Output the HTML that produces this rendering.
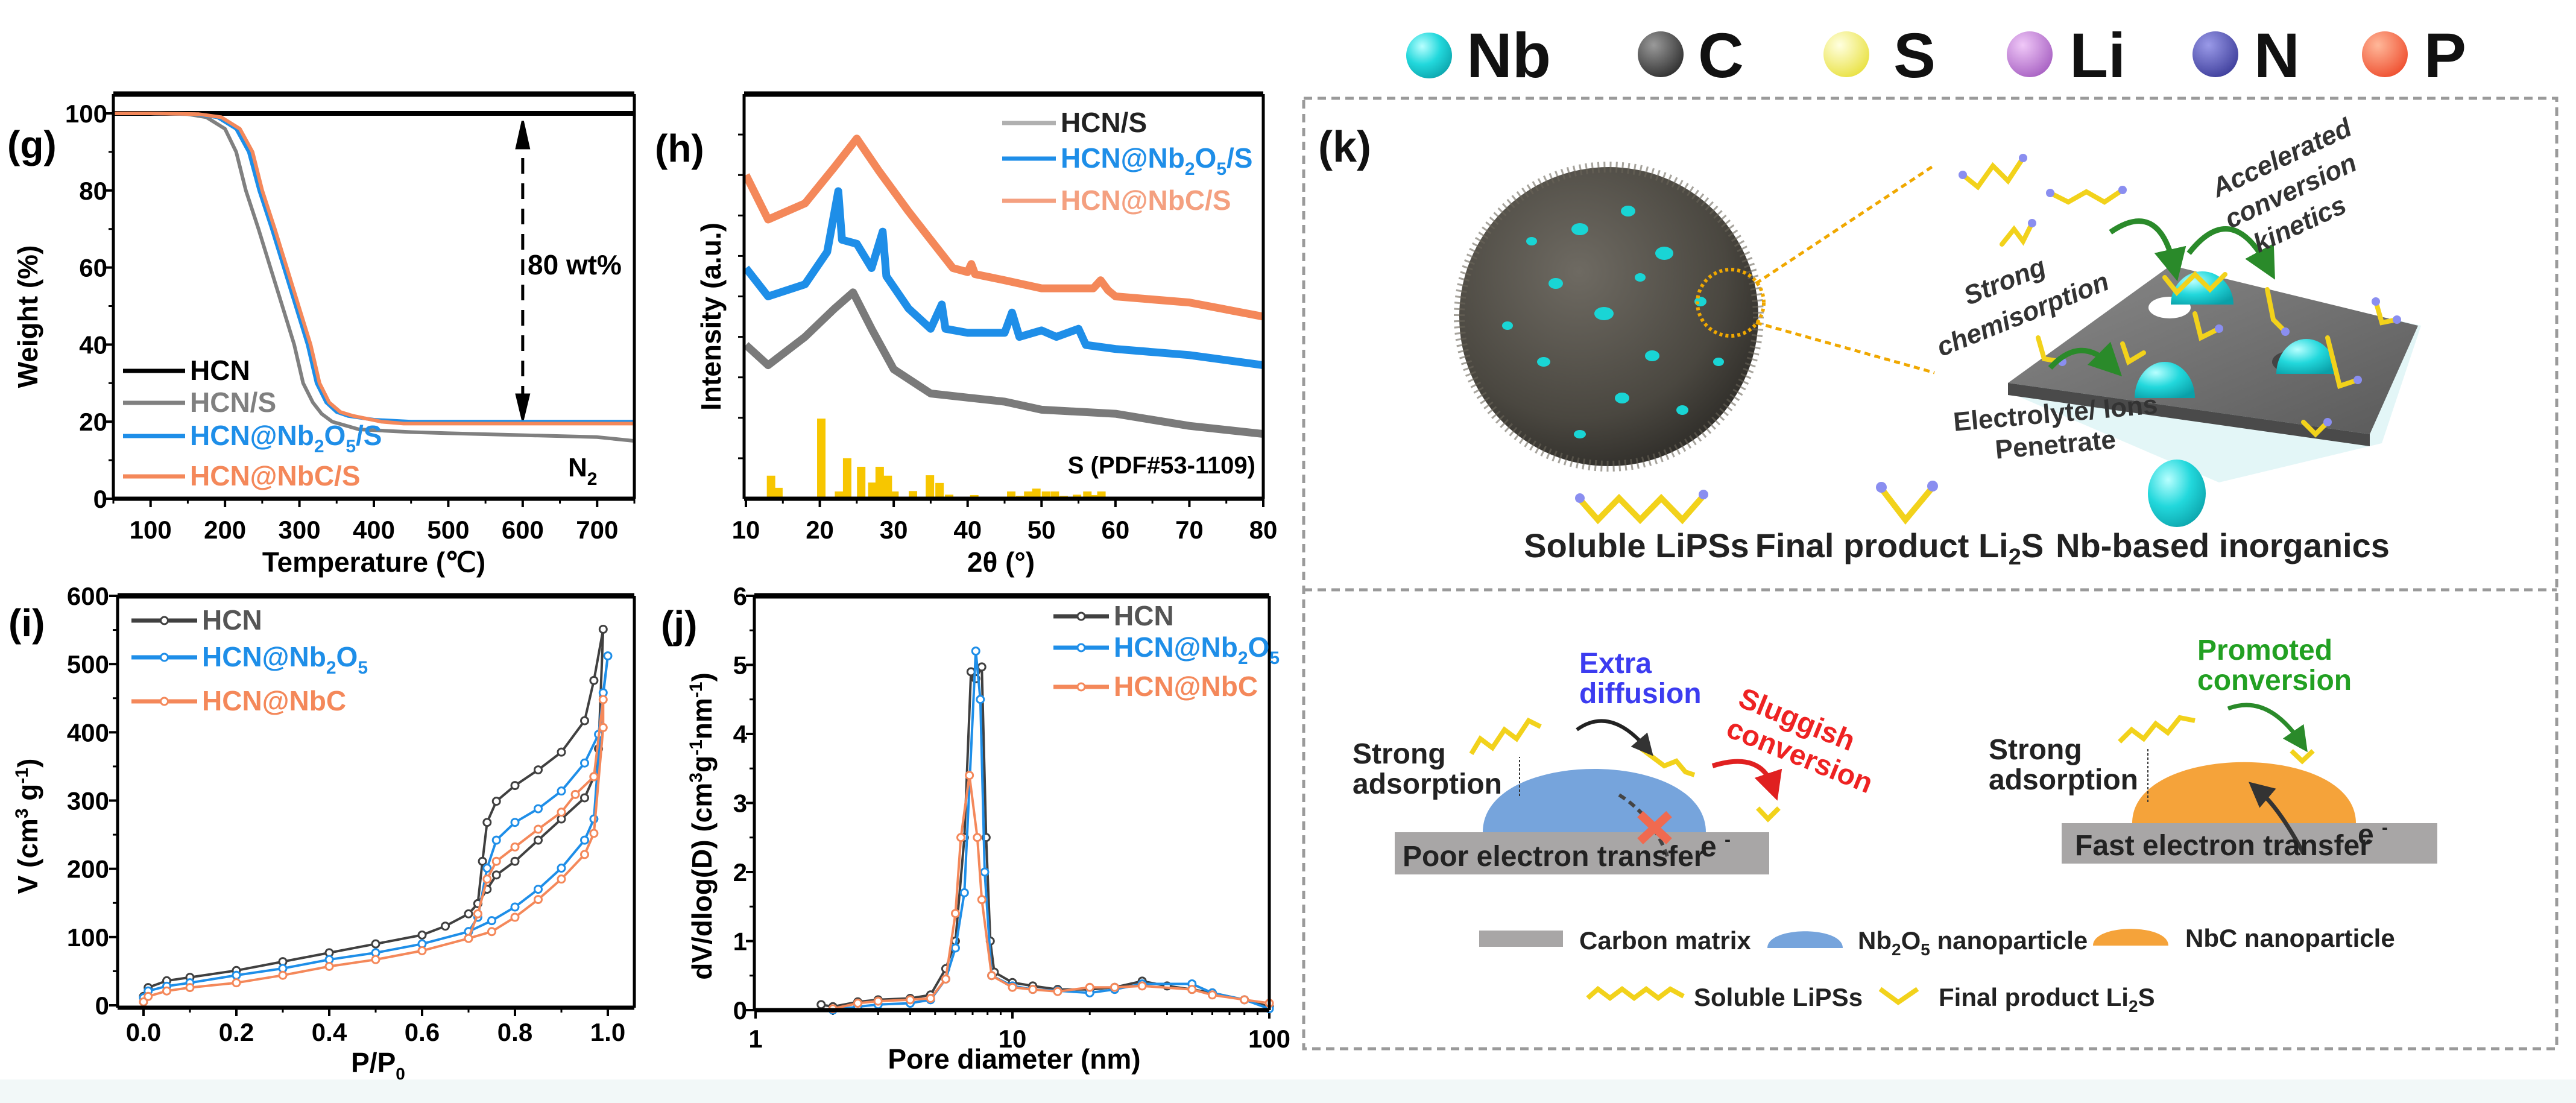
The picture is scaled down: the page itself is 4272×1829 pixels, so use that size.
<!DOCTYPE html>
<html><head><meta charset="utf-8"><style>
html,body{margin:0;padding:0;background:#fff;}
svg{display:block;font-family:"Liberation Sans",Arial,sans-serif;}
</style></head><body>
<svg id="fig" width="4272" height="1829" viewBox="0 0 4272 1829" xmlns="http://www.w3.org/2000/svg">
<defs>
<radialGradient id="sph" cx="0.4" cy="0.35" r="0.7"><stop offset="0" stop-color="#6e6a62"/><stop offset="0.7" stop-color="#4a4740"/><stop offset="1" stop-color="#2e2c28"/></radialGradient>
<radialGradient id="cy" cx="0.35" cy="0.3" r="0.8"><stop offset="0" stop-color="#b8ffff"/><stop offset="0.5" stop-color="#22d8dc"/><stop offset="1" stop-color="#0aa0a8"/></radialGradient>
<radialGradient id="gC" cx="0.35" cy="0.3" r="0.8"><stop offset="0" stop-color="#9a9a9a"/><stop offset="1" stop-color="#2a2a2a"/></radialGradient>
<radialGradient id="gS" cx="0.35" cy="0.3" r="0.8"><stop offset="0" stop-color="#ffffe0"/><stop offset="1" stop-color="#e8e03a"/></radialGradient>
<radialGradient id="gLi" cx="0.35" cy="0.3" r="0.8"><stop offset="0" stop-color="#f0c8f8"/><stop offset="1" stop-color="#a45cc0"/></radialGradient>
<radialGradient id="gN" cx="0.35" cy="0.3" r="0.8"><stop offset="0" stop-color="#9a9ae8"/><stop offset="1" stop-color="#3a3a98"/></radialGradient>
<radialGradient id="gP" cx="0.35" cy="0.3" r="0.8"><stop offset="0" stop-color="#ffb89a"/><stop offset="1" stop-color="#ee4a2a"/></radialGradient>
<linearGradient id="plate" x1="0" y1="0" x2="1" y2="1"><stop offset="0" stop-color="#8a8a8a"/><stop offset="1" stop-color="#5a5a5a"/></linearGradient>
<marker id="ah" markerWidth="6" markerHeight="6" refX="3" refY="3" orient="auto"><path d="M0,0 L6,3 L0,6 z" fill="#2a8a2a"/></marker>
<marker id="ahk" markerWidth="6" markerHeight="6" refX="3" refY="3" orient="auto"><path d="M0,0 L6,3 L0,6 z" fill="#333"/></marker>
<marker id="ahr" markerWidth="6" markerHeight="6" refX="3" refY="3" orient="auto"><path d="M0,0 L6,3 L0,6 z" fill="#e02020"/></marker>
</defs>
<rect x="0" y="1790" width="4272" height="39" fill="#f2f8f8"/>
<g id="charts"></g>

<!-- Panel k -->
<g font-weight="bold">
  <g font-size="105" fill="#111">
    <circle cx="2370" cy="92" r="38" fill="url(#cy)"/><text x="2432" y="128">Nb</text>
    <circle cx="2754" cy="90" r="38" fill="url(#gC)"/><text x="2816" y="128">C</text>
    <circle cx="3062" cy="90" r="38" fill="url(#gS)"/><text x="3140" y="128">S</text>
    <circle cx="3366" cy="90" r="38" fill="url(#gLi)"/><text x="3432" y="128">Li</text>
    <circle cx="3674" cy="90" r="38" fill="url(#gN)"/><text x="3738" y="128">N</text>
    <circle cx="3955" cy="90" r="38" fill="url(#gP)"/><text x="4020" y="128">P</text>
  </g>
  <rect x="2162" y="163" width="2078" height="1576" fill="none" stroke="#9a9a9a" stroke-width="5" stroke-dasharray="14,9"/>
  <line x1="2162" y1="978" x2="4240" y2="978" stroke="#9a9a9a" stroke-width="5" stroke-dasharray="14,9"/>
  <text x="2186" y="268" font-size="72" fill="#111">(k)</text>
  <g>
    <circle cx="2668" cy="525" r="248" fill="url(#sph)"/>
    <circle cx="2668" cy="525" r="248" fill="none" stroke="#6a655a" stroke-width="18" stroke-dasharray="3,7" opacity="0.6"/>
    <g fill="#19d5d5">
      <ellipse cx="2620" cy="380" rx="14" ry="10"/><ellipse cx="2700" cy="350" rx="12" ry="9"/><ellipse cx="2760" cy="420" rx="15" ry="11"/>
      <ellipse cx="2580" cy="470" rx="12" ry="9"/><ellipse cx="2660" cy="520" rx="16" ry="11"/><ellipse cx="2740" cy="590" rx="12" ry="9"/>
      <ellipse cx="2560" cy="600" rx="11" ry="8"/><ellipse cx="2820" cy="500" rx="10" ry="8"/><ellipse cx="2690" cy="660" rx="12" ry="9"/>
      <ellipse cx="2790" cy="680" rx="10" ry="8"/><ellipse cx="2500" cy="540" rx="9" ry="7"/><ellipse cx="2620" cy="720" rx="10" ry="7"/>
      <ellipse cx="2540" cy="400" rx="9" ry="7"/><ellipse cx="2850" cy="600" rx="9" ry="7"/><ellipse cx="2720" cy="460" rx="9" ry="7"/>
    </g>
    <circle cx="2870" cy="502" r="55" fill="none" stroke="#f0a800" stroke-width="6" stroke-dasharray="5,5"/>
    <line x1="2912" y1="470" x2="3208" y2="274" stroke="#f0a800" stroke-width="5" stroke-dasharray="10,7"/>
    <line x1="2912" y1="535" x2="3208" y2="618" stroke="#f0a800" stroke-width="5" stroke-dasharray="10,7"/>
  </g>
  <g>
    <polygon points="3330,650 3595,445 4015,540 3950,735 3680,800" fill="#c8eef0" opacity="0.5"/>
    <polygon points="3330,635 3600,440 4010,540 3930,720" fill="url(#plate)"/>
    <polygon points="3330,635 3930,720 3930,740 3330,655" fill="#4a4a4a"/>
    <ellipse cx="3598" cy="510" rx="35" ry="18" fill="#fff"/>
    <ellipse cx="3800" cy="600" rx="32" ry="18" fill="#444"/>
    <path d="M3600,505 a52,55 0 0 1 104,0 z" fill="url(#cy)"/>
    <path d="M3540,660 a50,60 0 0 1 100,0 z" fill="url(#cy)"/>
    <path d="M3775,620 a50,58 0 0 1 100,0 z" fill="url(#cy)"/>
  </g>
  <g fill="none" stroke="#f2d21b" stroke-width="8" stroke-linecap="round">
    <polyline points="3255,290 3280,310 3305,275 3330,300 3355,262"/>
    <polyline points="3400,320 3430,335 3460,318 3490,335 3520,315"/>
    <polyline points="3320,405 3340,380 3355,400 3370,370"/>
    <polyline points="3590,460 3610,485 3640,455 3665,480 3690,455"/>
    <polyline points="3640,520 3650,560 3680,545"/>
    <polyline points="3760,480 3770,530 3790,550"/>
    <polyline points="3380,560 3390,595 3420,600"/>
    <polyline points="3520,570 3530,600 3555,585"/>
    <polyline points="3860,560 3880,640 3910,630"/>
    <polyline points="3940,500 3950,535 3975,530"/>
    <polyline points="3820,700 3840,720 3860,700"/>
  </g>
  <g fill="#8a8ef0">
    <circle cx="3255" cy="290" r="7"/><circle cx="3355" cy="262" r="7"/><circle cx="3400" cy="320" r="7"/><circle cx="3520" cy="315" r="7"/>
    <circle cx="3370" cy="370" r="7"/><circle cx="3680" cy="545" r="7"/><circle cx="3790" cy="550" r="7"/><circle cx="3420" cy="600" r="7"/>
    <circle cx="3910" cy="630" r="7"/><circle cx="3975" cy="530" r="7"/><circle cx="3940" cy="500" r="7"/><circle cx="3860" cy="700" r="7"/>
  </g>
  <g fill="none" stroke="#2a8a2a" stroke-width="9">
    <path d="M3500,385 Q3580,330 3605,440" marker-end="url(#ah)"/>
    <path d="M3630,420 Q3700,330 3760,440" marker-end="url(#ah)"/>
    <path d="M3400,610 Q3450,555 3500,605" marker-end="url(#ah)"/>
  </g>
  <g font-size="44" fill="#333" font-style="italic">
    <text transform="translate(3330,480) rotate(-22)" text-anchor="middle">Strong</text>
    <text transform="translate(3360,535) rotate(-22)" text-anchor="middle">chemisorption</text>
    <text transform="translate(3790,275) rotate(-25)" text-anchor="middle">Accelerated</text>
    <text transform="translate(3805,330) rotate(-25)" text-anchor="middle">conversion</text>
    <text transform="translate(3820,385) rotate(-25)" text-anchor="middle">kinetics</text>
    <text transform="translate(3410,700) rotate(-5)" text-anchor="middle" font-style="normal">Electrolyte/ Ions</text>
    <text transform="translate(3410,752) rotate(-5)" text-anchor="middle" font-style="normal">Penetrate</text>
  </g>
  <g>
    <polyline points="2620,828 2650,862 2685,826 2720,862 2755,826 2790,862 2825,822" fill="none" stroke="#f2d21b" stroke-width="10"/>
    <circle cx="2620" cy="826" r="8" fill="#8a8ef0"/><circle cx="2825" cy="820" r="8" fill="#8a8ef0"/>
    <polyline points="3120,810 3160,862 3205,808" fill="none" stroke="#f2d21b" stroke-width="10"/>
    <circle cx="3120" cy="808" r="9" fill="#8a8ef0"/><circle cx="3205" cy="806" r="9" fill="#8a8ef0"/>
    <ellipse cx="3610" cy="818" rx="48" ry="56" fill="url(#cy)"/>
  </g>
  <g font-size="56" fill="#222" text-anchor="middle">
    <text x="2714" y="924">Soluble LiPSs</text>
    <text x="3150" y="924">Final product Li<tspan font-size="38" dy="12">2</tspan><tspan dy="-12">S</tspan></text>
    <text x="3686" y="924">Nb-based inorganics</text>
  </g>

  <!-- lower schematic -->
  <g>
    <rect x="2313" y="1380" width="621" height="70" fill="#a8a6a6"/>
    <path d="M2459,1380 C2459,1240 2829,1240 2829,1380 z" fill="#76a4dc"/>
    <polyline points="2440,1250 2455,1225 2475,1240 2495,1210 2515,1225 2535,1195 2555,1205" fill="none" stroke="#f2d21b" stroke-width="8"/>
    <polyline points="2720,1240 2740,1255 2760,1270 2780,1262 2795,1280 2810,1285" fill="none" stroke="#f2d21b" stroke-width="8"/>
    <polyline points="2520,1320 2520,1255" stroke="#333" stroke-width="2" stroke-dasharray="4,3"/>
    <path d="M2615,1210 Q2670,1170 2730,1240" fill="none" stroke="#222" stroke-width="6" marker-end="url(#ahk)"/>
    <path d="M2840,1270 Q2920,1245 2940,1305" fill="none" stroke="#e02020" stroke-width="8" marker-end="url(#ahr)"/>
    <polyline points="2915,1340 2932,1358 2950,1340" fill="none" stroke="#f2d21b" stroke-width="8"/>
    <path d="M2765,1420 Q2740,1350 2680,1315" fill="none" stroke="#444" stroke-width="6" stroke-dasharray="12,8"/>
    <g stroke="#f06a50" stroke-width="14"><line x1="2720" y1="1350" x2="2768" y2="1395"/><line x1="2768" y1="1350" x2="2720" y2="1395"/></g>
  </g>
  <g font-size="48">
    <text x="2619" y="1116" fill="#3c3cf0">Extra</text>
    <text x="2619" y="1166" fill="#3c3cf0">diffusion</text>
    <text transform="translate(2880,1170) rotate(22)" fill="#ee2222">Sluggish</text>
    <text transform="translate(2860,1220) rotate(22)" fill="#ee2222">conversion</text>
    <text x="2243" y="1266" fill="#222">Strong</text>
    <text x="2243" y="1316" fill="#222">adsorption</text>
    <text x="2326" y="1436" fill="#222">Poor electron transfer</text>
    <text x="2820" y="1420" fill="#222">e <tspan font-size="30" dy="-18">-</tspan></text>
  </g>
  <g>
    <rect x="3419" y="1365" width="623" height="67" fill="#a8a6a6"/>
    <path d="M3536,1365 C3536,1230 3907,1230 3907,1365 z" fill="#f5a33a"/>
    <polyline points="3515,1230 3535,1210 3555,1225 3575,1200 3595,1215 3615,1190 3640,1195" fill="none" stroke="#f2d21b" stroke-width="8"/>
    <polyline points="3800,1245 3818,1262 3836,1245" fill="none" stroke="#f2d21b" stroke-width="8"/>
    <path d="M3695,1175 Q3760,1150 3815,1230" fill="none" stroke="#2a8a2a" stroke-width="7" marker-end="url(#ah)"/>
    <path d="M3820,1415 Q3780,1340 3745,1310" fill="none" stroke="#333" stroke-width="7" marker-end="url(#ahk)"/>
    <line x1="3562" y1="1330" x2="3562" y2="1240" stroke="#333" stroke-width="2" stroke-dasharray="4,3"/>
  </g>
  <g font-size="48">
    <text x="3644" y="1094" fill="#22a022">Promoted</text>
    <text x="3644" y="1144" fill="#22a022">conversion</text>
    <text x="3298" y="1259" fill="#222">Strong</text>
    <text x="3298" y="1309" fill="#222">adsorption</text>
    <text x="3441" y="1418" fill="#222">Fast electron transfer</text>
    <text x="3910" y="1400" fill="#222">e <tspan font-size="30" dy="-18">-</tspan></text>
  </g>
  <g font-size="42" fill="#222">
    <rect x="2453" y="1543" width="139" height="27" fill="#a8a6a6"/>
    <text x="2619" y="1574">Carbon matrix</text>
    <path d="M2931,1572 C2931,1535 3056,1535 3056,1572 z" fill="#76a4dc"/>
    <text x="3081" y="1574">Nb<tspan font-size="28" dy="10">2</tspan><tspan dy="-10">O</tspan><tspan font-size="28" dy="10">5</tspan><tspan dy="-10"> nanoparticle</tspan></text>
    <path d="M3471,1568 C3471,1531 3596,1531 3596,1568 z" fill="#f5a33a"/>
    <text x="3624" y="1570">NbC nanoparticle</text>
    <polyline points="2633,1655 2650,1640 2670,1655 2690,1640 2710,1655 2730,1640 2750,1655 2770,1640 2792,1652" fill="none" stroke="#f2d21b" stroke-width="8"/>
    <text x="2809" y="1668">Soluble LiPSs</text>
    <polyline points="3118,1640 3148,1662 3180,1640" fill="none" stroke="#f2d21b" stroke-width="8"/>
    <text x="3215" y="1668">Final product Li<tspan font-size="28" dy="10">2</tspan><tspan dy="-10">S</tspan></text>
  </g>
</g>
</svg>
<script>
// ---------- data: panel g (TGA) ----------
const gHCNT=[50,750]; const gHCNW=[100,100];
const gST=[50,100,150,175,200,215,228,245,261,277,293,305,318,330,344,380,450,500,600,700,750];
const gSW=[100,100,99.8,99,96,90,80,70,60,50,40,30,25,22,20,18,17.3,17,16.5,16,15];
const gNbT=[50,100,160,190,215,232,246,263,279,295,311,323,336,350,365,400,450,750];
const gNbW=[100,100,99.8,99,96,90,80,70,60,50,40,30,25,22.5,21.5,20.5,20,20];
const gCT=[50,100,165,195,220,237,250,267,283,299,315,327,340,355,372,410,440,750];
const gCW=[100,100,99.8,99,96,90,80,70,60,50,40,30,25,22.5,21.5,20,19.5,19.5];
const gXTicks=[100,200,300,400,500,600,700]; const gYTicks=[0,20,40,60,80,100];
// ---------- panel h (XRD) ----------
const hST=[10,13,18,22,24.5,27,30,35,40,45,50,60,70,80];
const hSI=[38,33,40,47,51,42,32,26,25,24,22,21,18,16];
const hNbT=[10,13,18,21,22.5,23,25,27,28.5,29,32,35,36.5,37,40,45,46,47,50,52,55,56,60,70,80];
const hNbI=[57,50,53,61,76,64,63,57,66,55,47,42,48,42,41,41,46,40,41.6,40,42,38,37,35.5,33];
const hCT=[10,13,18,22,25,28,32,35,38,40,40.5,41,45,50,57,58,59,60,70,80];
const hCI=[80,69,73,82,89,81,71,64,57,56,58,55.5,54,52,52,54,51.5,50,48.5,45];
const hBarPos=[13.4,14.4,20.2,22.6,23.7,25.6,27.1,28.1,29.2,30.1,32.6,34.9,36.2,37.5,40.9,43.1,45.9,47.1,48.2,49.3,50.6,51.8,53,54.8,56.2,57.1,58.1];
const hBarH=[5.7,2.7,19.8,1.8,10,7.9,4,7.9,5.7,1.8,1.9,5.8,3.9,1,0.9,0.5,1.8,0.7,1.8,2.5,1.8,1.8,0.7,1,1.8,0.9,1.8];
const hXTicks=[10,20,30,40,50,60,70,80];
// ---------- panel i (isotherms) ----------
const iHP=[0,0.01,0.05,0.1,0.2,0.3,0.4,0.5,0.6,0.65,0.7,0.72,0.74,0.76,0.8,0.85,0.9,0.95,0.97,0.98,0.99,0.97,0.95,0.9,0.85,0.8,0.76,0.74,0.73,0.72];
const iHV=[13,26,36,41,51,64,77,90,103,116,134,149,170,191,211,242,273,304,335,376,551,476,417,371,345,322,299,268,211,149];
const iBP=[0,0.01,0.05,0.1,0.2,0.3,0.4,0.5,0.6,0.7,0.75,0.8,0.85,0.9,0.95,0.97,0.99,1.0,0.98,0.95,0.9,0.85,0.8,0.76,0.74,0.72,0.7];
const iBV=[11,21,28,33,44,54,67,77,90,108,124,144,170,201,242,273,458,512,397,355,314,288,268,242,201,129,108];
const iCP=[0,0.01,0.05,0.1,0.2,0.3,0.4,0.5,0.6,0.7,0.75,0.8,0.85,0.9,0.95,0.97,0.99,0.99,0.97,0.93,0.9,0.85,0.8,0.76,0.74,0.72,0.7];
const iCV=[5,13,21,26,33,44,57,67,80,98,108,129,155,185,221,252,407,448,335,309,283,258,232,211,185,134,98];
const iXTicks=[0,0.2,0.4,0.6,0.8,1.0]; const iYTicks=[0,100,200,300,400,500,600];
// ---------- panel j (pore size) ----------
const jHD=[1.8,2,2.5,3,4,4.8,5.5,6,6.5,6.9,7.2,7.6,7.9,8.2,8.5,10,12,15,20,25,32,40,50,60,80,100];
const jHV=[0.08,0.05,0.12,0.15,0.17,0.22,0.6,1.0,2.5,4.9,4.8,4.97,2.5,1.0,0.55,0.4,0.35,0.3,0.3,0.33,0.42,0.35,0.3,0.25,0.15,0.05];
const jBD=[2,2.5,3,4,4.8,5.5,6,6.5,7.2,7.5,7.8,8.3,10,12,15,20,25,32,50,60,80,100];
const jBV=[0,0.05,0.08,0.1,0.15,0.45,0.9,1.7,5.2,4.5,2.0,0.5,0.35,0.3,0.28,0.25,0.3,0.38,0.38,0.25,0.15,0.02];
const jCD=[2,2.5,3,4,4.8,5.5,6,6.3,6.8,7.3,7.6,8.3,10,12,15,20,25,32,50,60,80,100];
const jCV=[0.02,0.1,0.13,0.15,0.17,0.45,1.4,2.5,3.4,2.5,1.6,0.5,0.33,0.3,0.27,0.33,0.33,0.35,0.3,0.22,0.15,0.1];
const jYTicks=[0,1,2,3,4,5,6]; const jXTicks=[1,10,100];

const NS='http://www.w3.org/2000/svg';
const root=document.getElementById('charts');
function E(tag,attrs,parent){const e=document.createElementNS(NS,tag);for(const k in attrs)e.setAttribute(k,attrs[k]);(parent||root).appendChild(e);return e;}
function lin(d0,d1,r0,r1){return v=>r0+(v-d0)*(r1-r0)/(d1-d0);}
function pathD(xs,ys,sx,sy){return xs.map((x,i)=>(i?'L':'M')+sx(x).toFixed(1)+','+sy(ys[i]).toFixed(1)).join(' ');}
function txt(x,y,s,attrs,parent){const t=E('text',Object.assign({x:x,y:y},attrs||{}),parent);t.textContent=s;return t;}

function frame(g,L,R,T,B){
  E('line',{x1:L,y1:T,x2:R,y2:T,stroke:'#000','stroke-width':9},g);
  E('line',{x1:L,y1:B,x2:R,y2:B,stroke:'#000','stroke-width':7},g);
  E('line',{x1:L,y1:T,x2:L,y2:B,stroke:'#000','stroke-width':5},g);
  E('line',{x1:R,y1:T,x2:R,y2:B,stroke:'#000','stroke-width':5},g);
}
function legendEntry(g,x1,x2,y,color,label,marker,name){
  const le=E('g',{},g);
  
  
  E('line',{x1:x1,y1:y,x2:x2,y2:y,stroke:color,'stroke-width':7},le);
  if(marker)E('circle',{cx:(x1+x2)/2,cy:y,r:6,fill:'#fff',stroke:color,'stroke-width':3},le);
  const t=txt(x2+8,y+15,'',{'font-size':46,'font-weight':'bold',fill:color},le);
  t.innerHTML=label;
  return le;
}

// ===== Panel g =====
(function(){
  const g=E('g',{});
  
  
  const L=188,R=1052,T=156,B=827;
  const sx=lin(50,750,L,R), sy=lin(0,100,B,188);
  gXTicks.forEach(v=>{E('line',{x1:sx(v),y1:B,x2:sx(v),y2:B+14,stroke:'#000','stroke-width':4},g);
    const t=txt(sx(v),B+66,String(v),{'text-anchor':'middle','font-size':42,'font-weight':'bold'},g);
    
    E('line',{x1:sx(v+50),y1:B,x2:sx(v+50),y2:B+8,stroke:'#000','stroke-width':3},g);});
  E('line',{x1:sx(50),y1:B,x2:sx(50),y2:B+8,stroke:'#000','stroke-width':3},g);
  gYTicks.forEach(v=>{E('line',{x1:L-14,y1:sy(v),x2:L,y2:sy(v),stroke:'#000','stroke-width':4},g);
    const t=txt(L-10,sy(v)+15,String(v),{'text-anchor':'end','font-size':42,'font-weight':'bold'},g);
    
    if(v<100)E('line',{x1:L-8,y1:sy(v+10),x2:L,y2:sy(v+10),stroke:'#000','stroke-width':3},g);});
  const series=[[gHCNT,gHCNW,'#000',8,'series-hcn'],[gST,gSW,'#808080',6,'series-hcn-s'],[gNbT,gNbW,'#1e8ee8',6,'series-hcn-nb2o5-s'],[gCT,gCW,'#f4885a',6,'series-hcn-nbc-s']];
  series.forEach(s=>{const p=E('path',{d:pathD(s[0],s[1],sx,sy),fill:'none',stroke:s[2],'stroke-width':s[3],'stroke-linejoin':'round'},g);
    });
  frame(g,L,R,T,B);
  const ar=E('g',{},g);
  
  
  E('line',{x1:sx(600),y1:sy(95),x2:sx(600),y2:sy(24),stroke:'#000','stroke-width':5,'stroke-dasharray':'26,16'},ar);
  E('path',{d:`M${sx(600)-10},${sy(91)} L${sx(600)},${sy(98)} L${sx(600)+10},${sy(91)} z`,fill:'#000',stroke:'#000','stroke-width':4},ar);
  E('path',{d:`M${sx(600)-10},${sy(27)} L${sx(600)},${sy(20.5)} L${sx(600)+10},${sy(27)} z`,fill:'#000',stroke:'#000','stroke-width':4},ar);
  const a=txt(875,455,'80 wt%',{'font-size':46,'font-weight':'bold'},g);
  
  const n=txt(942,790,'',{'font-size':44,'font-weight':'bold'},g);
  n.innerHTML='N<tspan font-size="30" dy="14">2</tspan>';
  
  legendEntry(g,204,307,615,'#000','HCN',false,'legend-hcn');
  legendEntry(g,204,307,668,'#808080','HCN/S',false,'legend-hcn-s');
  legendEntry(g,204,307,723,'#1e8ee8','HCN@Nb<tspan font-size="30" dy="12">2</tspan><tspan dy="-12">O</tspan><tspan font-size="30" dy="12">5</tspan><tspan dy="-12">/S</tspan>',false,'legend-hcn-nb2o5-s');
  legendEntry(g,204,307,790,'#f4885a','HCN@NbC/S',false,'legend-hcn-nbc-s');
  const yl=txt(0,0,'Weight (%)',{'font-size':46,'font-weight':'bold','text-anchor':'middle',transform:'translate(62,525) rotate(-90)'},g);
  
  const xl=txt(620,948,'Temperature (℃)',{'font-size':46,'font-weight':'bold','text-anchor':'middle'},g);
  
  const pl=txt(12,262,'(g)',{'font-size':64,'font-weight':'bold'},g);
  
})();

// ===== Panel h =====
(function(){
  const g=E('g',{});
  
  
  const L=1234,R=2095,T=156,B=827;
  const sx=lin(10,80,1237,2095), sy=lin(0,100,B,T);
  hXTicks.forEach(v=>{E('line',{x1:sx(v),y1:B,x2:sx(v),y2:B+14,stroke:'#000','stroke-width':4},g);
    const t=txt(sx(v),B+66,String(v),{'text-anchor':'middle','font-size':42,'font-weight':'bold'},g);
    
    if(v<80)E('line',{x1:sx(v+5),y1:B,x2:sx(v+5),y2:B+8,stroke:'#000','stroke-width':3},g);});
  for(let v=10;v<100;v+=10)E('line',{x1:L-10,y1:sy(v),x2:L,y2:sy(v),stroke:'#000','stroke-width':3},g);
  hBarPos.forEach((p,i)=>{const r=E('rect',{x:sx(p)-7,y:sy(hBarH[i]),width:14,height:B-sy(hBarH[i]),fill:'#f7c600'},g);
    });
  const series=[[hST,hSI,'#7a7a7a','series-hcn-s'],[hNbT,hNbI,'#1e8ee8','series-hcn-nb2o5-s'],[hCT,hCI,'#f4885a','series-hcn-nbc-s']];
  series.forEach(s=>{const p=E('path',{d:pathD(s[0],s[1],sx,sy),fill:'none',stroke:s[2],'stroke-width':13,'stroke-linejoin':'round'},g);
    });
  frame(g,L,R,T,B);
  legendEntry(g,1662,1751,204,'#b0b0b0','<tspan fill="#222">HCN/S</tspan>',false,'legend-hcn-s');
  legendEntry(g,1662,1751,263,'#1e8ee8','HCN@Nb<tspan font-size="30" dy="12">2</tspan><tspan dy="-12">O</tspan><tspan font-size="30" dy="12">5</tspan><tspan dy="-12">/S</tspan>',false,'legend-hcn-nb2o5-s');
  legendEntry(g,1662,1751,333,'#f4a080','HCN@NbC/S',false,'legend-hcn-nbc-s');
  const rl=txt(2082,785,'S (PDF#53-1109)',{'font-size':40,'font-weight':'bold','text-anchor':'end'},g);
  
  const yl=txt(0,0,'Intensity (a.u.)',{'font-size':46,'font-weight':'bold','text-anchor':'middle',transform:'translate(1195,525) rotate(-90)'},g);
  
  const xl=txt(1660,948,'2θ (°)',{'font-size':46,'font-weight':'bold','text-anchor':'middle'},g);
  
  const pl=txt(1086,268,'(h)',{'font-size':64,'font-weight':'bold'},g);
  
})();

// ===== Panel i =====
(function(){
  const g=E('g',{});
  
  
  const L=195,R=1052,T=988,B=1671;
  const sx=lin(0,1,238,1008), sy=lin(0,600,1667,988);
  iXTicks.forEach(v=>{E('line',{x1:sx(v),y1:B,x2:sx(v),y2:B+14,stroke:'#000','stroke-width':4},g);
    const t=txt(sx(v),B+55,v.toFixed(1),{'text-anchor':'middle','font-size':42,'font-weight':'bold'},g);
    
    if(v<1)E('line',{x1:sx(v+0.1),y1:B,x2:sx(v+0.1),y2:B+8,stroke:'#000','stroke-width':3},g);});
  iYTicks.forEach(v=>{E('line',{x1:L-14,y1:sy(v),x2:L,y2:sy(v),stroke:'#000','stroke-width':4},g);
    const t=txt(L-14,sy(v)+15,String(v),{'text-anchor':'end','font-size':42,'font-weight':'bold'},g);
    
    if(v<600)E('line',{x1:L-8,y1:sy(v+50),x2:L,y2:sy(v+50),stroke:'#000','stroke-width':3},g);});
  const series=[[iHP,iHV,'#404040','series-hcn'],[iBP,iBV,'#1e8ee8','series-hcn-nb2o5'],[iCP,iCV,'#f4885a','series-hcn-nbc']];
  series.forEach(s=>{const sg=E('g',{},g);
    
    
    E('path',{d:pathD(s[0],s[1],sx,sy),fill:'none',stroke:s[2],'stroke-width':4},sg);
    s[0].forEach((x,i)=>{E('circle',{cx:sx(x),cy:sy(s[1][i]),r:6,fill:'#fff',stroke:s[2],'stroke-width':3},sg);});});
  frame(g,L,R,T,B);
  legendEntry(g,218,327,1029,'#404040','<tspan fill="#555">HCN</tspan>',true,'legend-hcn');
  legendEntry(g,218,327,1090,'#1e8ee8','HCN@Nb<tspan font-size="30" dy="12">2</tspan><tspan dy="-12">O</tspan><tspan font-size="30" dy="12">5</tspan>',true,'legend-hcn-nb2o5');
  legendEntry(g,218,327,1163,'#f4885a','HCN@NbC',true,'legend-hcn-nbc');
  const yl=txt(0,0,'',{'font-size':46,'font-weight':'bold','text-anchor':'middle',transform:'translate(62,1370) rotate(-90)'},g);
  yl.innerHTML='V (cm<tspan font-size="30" dy="-16">3</tspan><tspan dy="16"> g</tspan><tspan font-size="30" dy="-16">-1</tspan><tspan dy="16">)</tspan>';
  
  const xl=txt(627,1778,'',{'font-size':46,'font-weight':'bold','text-anchor':'middle'},g);
  xl.innerHTML='P/P<tspan font-size="28" dy="12">0</tspan>';
  
  const pl=txt(14,1055,'(i)',{'font-size':64,'font-weight':'bold'},g);
  
})();

// ===== Panel j =====
(function(){
  const g=E('g',{});
  
  
  const L=1251,R=2105,T=988,B=1675;
  const lx=lin(0,2,1253,2105); const sx=v=>lx(Math.log10(v)); const sy=lin(0,6,B,T);
  jXTicks.forEach(v=>{E('line',{x1:sx(v),y1:B,x2:sx(v),y2:B+14,stroke:'#000','stroke-width':4},g);
    const t=txt(sx(v),B+62,String(v),{'text-anchor':'middle','font-size':42,'font-weight':'bold'},g);
    });
  [1,10].forEach(d=>{for(let k=2;k<10;k++)E('line',{x1:sx(d*k),y1:B,x2:sx(d*k),y2:B+8,stroke:'#000','stroke-width':3},g);});
  jYTicks.forEach(v=>{E('line',{x1:L-14,y1:sy(v),x2:L,y2:sy(v),stroke:'#000','stroke-width':4},g);
    const t=txt(L-12,sy(v)+15,String(v),{'text-anchor':'end','font-size':42,'font-weight':'bold'},g);
    
    if(v<6)E('line',{x1:L-8,y1:sy(v+0.5),x2:L,y2:sy(v+0.5),stroke:'#000','stroke-width':3},g);});
  const series=[[jHD,jHV,'#404040','series-hcn'],[jBD,jBV,'#1e8ee8','series-hcn-nb2o5'],[jCD,jCV,'#f4885a','series-hcn-nbc']];
  series.forEach(s=>{const sg=E('g',{},g);
    
    
    E('path',{d:pathD(s[0],s[1],sx,sy),fill:'none',stroke:s[2],'stroke-width':4},sg);
    s[0].forEach((x,i)=>{E('circle',{cx:sx(x),cy:sy(s[1][i]),r:6,fill:'#fff',stroke:s[2],'stroke-width':3},sg);});});
  frame(g,L,R,T,B);
  legendEntry(g,1747,1839,1022,'#404040','<tspan fill="#555">HCN</tspan>',true,'legend-hcn');
  legendEntry(g,1747,1839,1074,'#1e8ee8','HCN@Nb<tspan font-size="30" dy="12">2</tspan><tspan dy="-12">O</tspan><tspan font-size="30" dy="12">5</tspan>',true,'legend-hcn-nb2o5');
  legendEntry(g,1747,1839,1139,'#f4885a','HCN@NbC',true,'legend-hcn-nbc');
  const yl=txt(0,0,'',{'font-size':46,'font-weight':'bold','text-anchor':'middle',transform:'translate(1180,1370) rotate(-90)'},g);
  yl.innerHTML='dV/dlog(D) (cm<tspan font-size="30" dy="-16">3</tspan><tspan dy="16">g</tspan><tspan font-size="30" dy="-16">-1</tspan><tspan dy="16">nm</tspan><tspan font-size="30" dy="-16">-1</tspan><tspan dy="16">)</tspan>';
  
  const xl=txt(1682,1772,'Pore diameter (nm)',{'font-size':46,'font-weight':'bold','text-anchor':'middle'},g);
  
  const pl=txt(1096,1058,'(j)',{'font-size':64,'font-weight':'bold'},g);
  
})();
</script>
</body></html>
